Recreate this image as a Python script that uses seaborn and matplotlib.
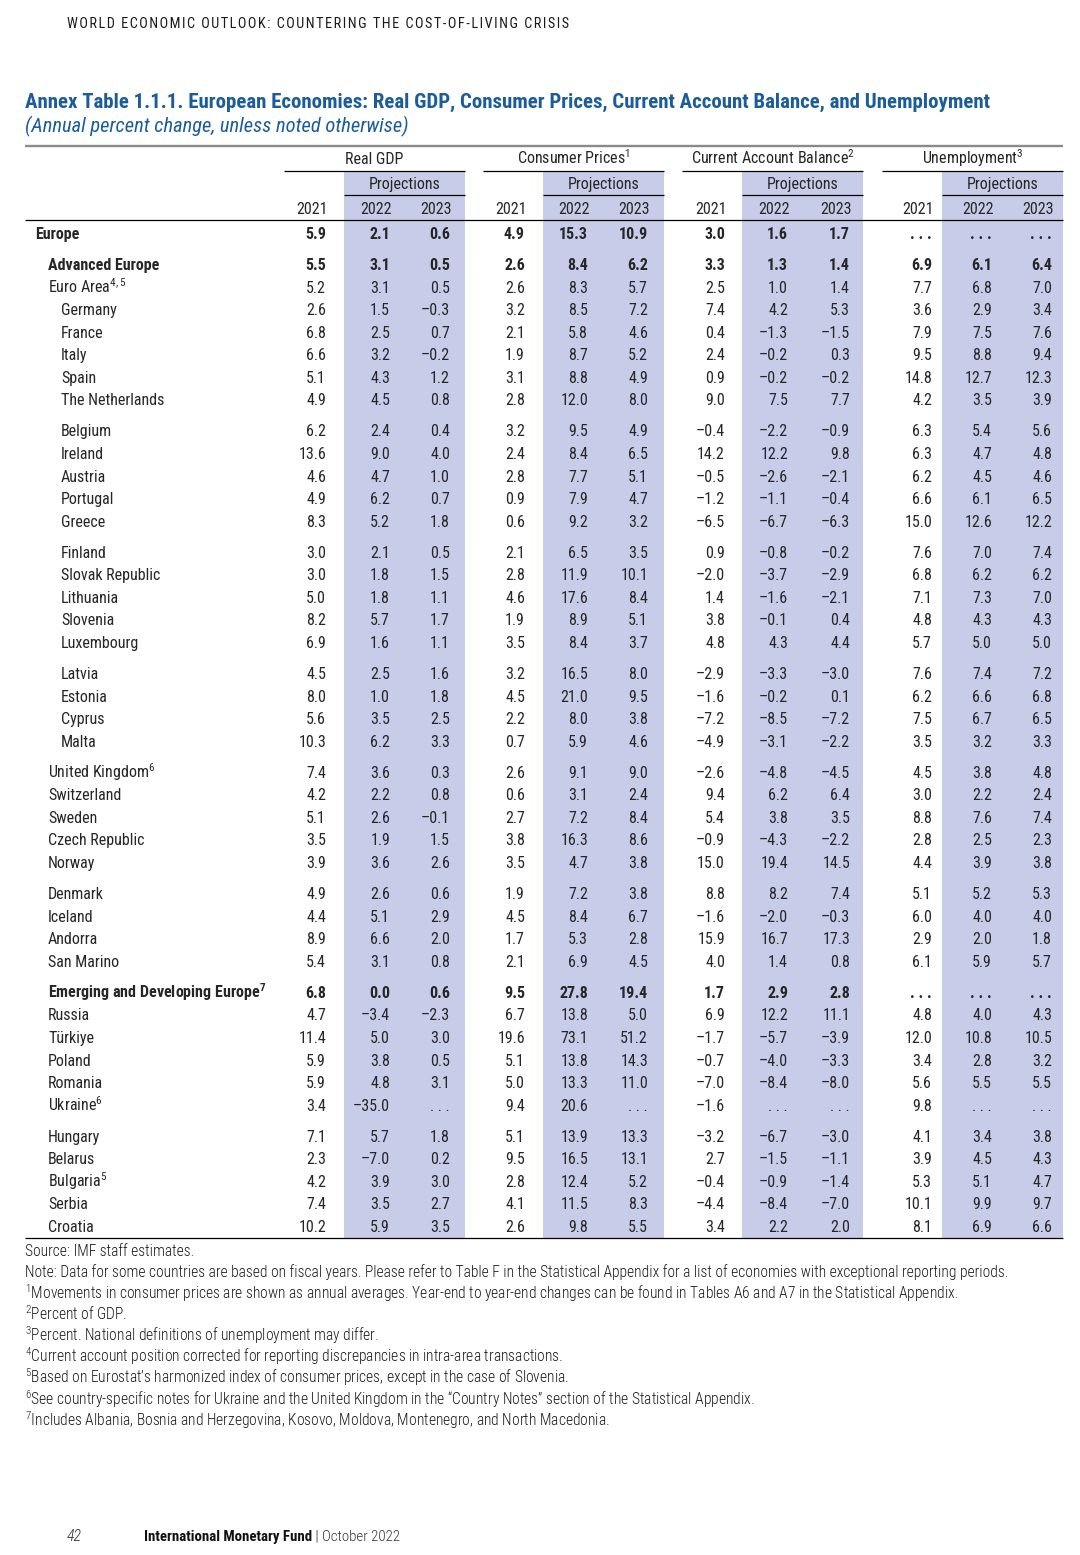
import numpy as np
import matplotlib.pyplot as plt
import seaborn as sns
from matplotlib import font_manager

# Daten
countries = [
    "Europe", "Advanced Europe", "Euro Area$^{4,5}$", "Germany", "France", "Italy",
    "Spain", "The Netherlands", "Belgium", "Ireland", "Austria", "Portugal", "Greece",
    "Finland", "Slovak Republic", "Lithuania", "Slovenia", "Luxembourg", "Latvia",
    "Estonia", "Cyprus", "Malta", "United Kingdom$^{6}$", "Switzerland", "Sweden",
    "Czech Republic", "Norway", "Denmark", "Iceland", "Andorra", "San Marino",
    "Emerging and Developing Europe$^{7}$", "Russia", "Türkiye", "Poland", "Romania",
    "Ukraine$^{6}$", "Hungary", "Belarus", "Bulgaria$^{5}$", "Serbia", "Croatia",
]
nan = np.nan
gdp_2021 = [5.9, 5.5, 5.2, 2.6, 6.8, 6.6, 5.1, 4.9, 6.2, 13.6, 4.6, 4.9, 8.3, 3.0, 3.0, 5.0,
            8.2, 6.9, 4.5, 8.0, 5.6, 10.3, 7.4, 4.2, 5.1, 3.5, 3.9, 4.9, 4.4, 8.9, 5.4,
            6.8, 4.7, 11.4, 5.9, 5.9, 3.4, 7.1, 2.3, 4.2, 7.4, 10.2]
gdp_2022 = [2.1, 3.1, 3.1, 1.5, 2.5, 3.2, 4.3, 4.5, 2.4, 9.0, 4.7, 6.2, 5.2, 2.1, 1.8, 1.8,
            5.7, 1.6, 2.5, 1.0, 3.5, 6.2, 3.6, 2.2, 2.6, 1.9, 3.6, 2.6, 5.1, 6.6, 3.1,
            0.0, -3.4, 5.0, 3.8, 4.8, -35.0, 5.7, -7.0, 3.9, 3.5, 5.9]
gdp_2023 = [0.6, 0.5, 0.5, -0.3, 0.7, -0.2, 1.2, 0.8, 0.4, 4.0, 1.0, 0.7, 1.8, 0.5, 1.5, 1.1,
            1.7, 1.1, 1.6, 1.8, 2.5, 3.3, 0.3, 0.8, -0.1, 1.5, 2.6, 0.6, 2.9, 2.0, 0.8,
            0.6, -2.3, 3.0, 0.5, 3.1, nan, 1.8, 0.2, 3.0, 2.7, 3.5]
cpi_2021 = [4.9, 2.6, 2.6, 3.2, 2.1, 1.9, 3.1, 2.8, 3.2, 2.4, 2.8, 0.9, 0.6, 2.1, 2.8, 4.6,
            1.9, 3.5, 3.2, 4.5, 2.2, 0.7, 2.6, 0.6, 2.7, 3.8, 3.5, 1.9, 4.5, 1.7, 2.1,
            9.5, 6.7, 19.6, 5.1, 5.0, 9.4, 5.1, 9.5, 2.8, 4.1, 2.6]
cpi_2022 = [15.3, 8.4, 8.3, 8.5, 5.8, 8.7, 8.8, 12.0, 9.5, 8.4, 7.7, 7.9, 9.2, 6.5, 11.9, 17.6,
            8.9, 8.4, 16.5, 21.0, 8.0, 5.9, 9.1, 3.1, 7.2, 16.3, 4.7, 7.2, 8.4, 5.3, 6.9,
            27.8, 13.8, 73.1, 13.8, 13.3, 20.6, 13.9, 16.5, 12.4, 11.5, 9.8]
cpi_2023 = [10.9, 6.2, 5.7, 7.2, 4.6, 5.2, 4.9, 8.0, 4.9, 6.5, 5.1, 4.7, 3.2, 3.5, 10.1, 8.4,
            5.1, 3.7, 8.0, 9.5, 3.8, 4.6, 9.0, 2.4, 8.4, 8.6, 3.8, 3.8, 6.7, 2.8, 4.5,
            19.4, 5.0, 51.2, 14.3, 11.0, nan, 13.3, 13.1, 5.2, 8.3, 5.5]
ca_2021 = [3.0, 3.3, 2.5, 7.4, 0.4, 2.4, 0.9, 9.0, -0.4, 14.2, -0.5, -1.2, -6.5, 0.9, -2.0, 1.4,
           3.8, 4.8, -2.9, -1.6, -7.2, -4.9, -2.6, 9.4, 5.4, -0.9, 15.0, 8.8, -1.6, 15.9, 4.0,
           1.7, 6.9, -1.7, -0.7, -7.0, -1.6, -3.2, 2.7, -0.4, -4.4, 3.4]
ca_2022 = [1.6, 1.3, 1.0, 4.2, -1.3, -0.2, -0.2, 7.5, -2.2, 12.2, -2.6, -1.1, -6.7, -0.8, -3.7, -1.6,
           -0.1, 4.3, -3.3, -0.2, -8.5, -3.1, -4.8, 6.2, 3.8, -4.3, 19.4, 8.2, -2.0, 16.7, 1.4,
           2.9, 12.2, -5.7, -4.0, -8.4, nan, -6.7, -1.5, -0.9, -8.4, 2.2]
ca_2023 = [1.7, 1.4, 1.4, 5.3, -1.5, 0.3, -0.2, 7.7, -0.9, 9.8, -2.1, -0.4, -6.3, -0.2, -2.9, -2.1,
           0.4, 4.4, -3.0, 0.1, -7.2, -2.2, -4.5, 6.4, 3.5, -2.2, 14.5, 7.4, -0.3, 17.3, 0.8,
           2.8, 11.1, -3.9, -3.3, -8.0, nan, -3.0, -1.1, -1.4, -7.0, 2.0]
unemp_2021 = [nan, 6.9, 7.7, 3.6, 7.9, 9.5, 14.8, 4.2, 6.3, 6.3, 6.2, 6.6, 15.0, 7.6, 6.8, 7.1,
              4.8, 5.7, 7.6, 6.2, 7.5, 3.5, 4.5, 3.0, 8.8, 2.8, 4.4, 5.1, 6.0, 2.9, 6.1,
              nan, 4.8, 12.0, 3.4, 5.6, 9.8, 4.1, 3.9, 5.3, 10.1, 8.1]
unemp_2022 = [nan, 6.1, 6.8, 2.9, 7.5, 8.8, 12.7, 3.5, 5.4, 4.7, 4.5, 6.1, 12.6, 7.0, 6.2, 7.3,
              4.3, 5.0, 7.4, 6.6, 6.7, 3.2, 3.8, 2.2, 7.6, 2.5, 3.9, 5.2, 4.0, 2.0, 5.9,
              nan, 4.0, 10.8, 2.8, 5.5, nan, 3.4, 4.5, 5.1, 9.9, 6.9]
unemp_2023 = [nan, 6.4, 7.0, 3.4, 7.6, 9.4, 12.3, 3.9, 5.6, 4.8, 4.6, 6.5, 12.2, 7.4, 6.2, 7.0,
              4.3, 5.0, 7.2, 6.8, 6.5, 3.3, 4.8, 2.4, 7.4, 2.3, 3.8, 5.3, 4.0, 1.8, 5.7,
              nan, 4.3, 10.5, 3.2, 5.5, nan, 3.8, 4.3, 4.7, 9.7, 6.6]

groups = ["Real GDP", "Consumer Prices$^{1}$", "Current Account Balance$^{2}$", "Unemployment$^{3}$"]
years = ["2021", "2022", "2023"]
series = [[gdp_2021, gdp_2022, gdp_2023], [cpi_2021, cpi_2022, cpi_2023],
          [ca_2021, ca_2022, ca_2023], [unemp_2021, unemp_2022, unemp_2023]]

footnotes = [
    "Source: IMF staff estimates.",
    "Note: Data for some countries are based on fiscal years. Please refer to Table F in the Statistical Appendix for a list of economies with exceptional reporting periods.",
    "$^{1}$Movements in consumer prices are shown as annual averages. Year-end to year-end changes can be found in Tables A6 and A7 in the Statistical Appendix.",
    "$^{2}$Percent of GDP.",
    "$^{3}$Percent. National definitions of unemployment may differ.",
    "$^{4}$Current account position corrected for reporting discrepancies in intra-area transactions.",
    "$^{5}$Based on Eurostat’s harmonized index of consumer prices, except in the case of Slovenia.",
    "$^{6}$See country-specific notes for Ukraine and the United Kingdom in the “Country Notes” section of the Statistical Appendix.",
    "$^{7}$Includes Albania, Bosnia and Herzegovina, Kosovo, Moldova, Montenegro, and North Macedonia.",
]

# Layout
bold_rows = {0, 1, 31}
indent2 = set(range(3, 22))
gap_after = {0, 7, 12, 17, 21, 26, 30, 36}
y_first, row_step, row_gap = 233, 22.56, 8.5
blue = "#1b5c9a"
band = "#c7cde8"

sns.set_theme(style="white")
names = {f.name for f in font_manager.fontManager.ttflist}
narrow = next((n for n in ["Roboto Condensed", "Archivo Narrow", "PT Sans Narrow"] if n in names),
              "Liberation Sans")
plt.rcParams["font.family"] = [narrow, "DejaVu Sans"]
plt.rcParams["mathtext.fontset"] = "custom"
plt.rcParams["mathtext.rm"] = narrow
plt.rcParams["mathtext.default"] = "regular"

fig = plt.figure(figsize=(10.8, 15.55), dpi=100)
ax = fig.add_axes([0, 0, 1, 1])
ax.set_xlim(0, 1080)
ax.set_ylim(1555, 0)
ax.axis("off")
renderer = fig.canvas.get_renderer()


def fit(t, width):
    # Schriftgröße so anpassen, dass der Text die Zielbreite hat
    w = t.get_window_extent(renderer).width
    t.set_fontsize(t.get_fontsize() * width / w)
    return t


def fmt(v):
    if np.isnan(v):
        return ". . ."
    return f"{v:.1f}".replace("-", "\u2013")


# Zeilenpositionen
row_y = []
y = y_first
for i in range(len(countries)):
    row_y.append(y)
    y += row_step + (row_gap if i in gap_after else 0)

table_bottom = 1238
g_left = [284, 483, 682, 882]
g_width = 181
proj_left = [344, 543, 742, 942]
col_right = [[326, 390, 450], [525, 588, 648], [725, 788, 850], [932, 992, 1052]]

# Schattierte Projektionsspalten
for x0 in proj_left:
    ax.fill_between([x0, x0 + 121], 172, table_bottom, color=band, lw=0, zorder=0)

# Linien
ax.hlines(146, 25, 1063, color="#8a8a8a", lw=1.7)
for x0 in g_left:
    ax.hlines(171, x0, x0 + g_width, color="black", lw=0.9)
for x0 in proj_left:
    ax.hlines(195, x0, x0 + 121, color="black", lw=0.9)
ax.hlines(220, 25, 1063, color="black", lw=0.9)
ax.hlines(table_bottom, 25, 1063, color="black", lw=0.9)

fs = 11.5
# Kopfzeilen
for gi, g in enumerate(groups):
    ax.text(g_left[gi] + g_width / 2, 164, g, ha="center", va="baseline", fontsize=fs)
    ax.text(proj_left[gi] + 60.5, 189, "Projections", ha="center", va="baseline", fontsize=fs)
    for yi, yr in enumerate(years):
        ax.text(col_right[gi][yi] + 2, 214, yr, ha="right", va="baseline", fontsize=fs)

# Tabellenkörper
for i, name in enumerate(countries):
    yb = row_y[i] + 6
    weight = "bold" if i in bold_rows else "normal"
    x = 35 if i == 0 else (61 if i in indent2 else 48)
    ax.text(x, yb, name, ha="left", va="baseline", fontsize=fs, fontweight=weight)
    for gi in range(4):
        for yi in range(3):
            ax.text(col_right[gi][yi], yb, fmt(series[gi][yi][i]), ha="right",
                    va="baseline", fontsize=fs, fontweight=weight)

# Titel (Kopfzeile mit Sperrung)
header = "WORLD ECONOMIC OUTLOOK: COUNTERING THE COST-OF-LIVING CRISIS"
fit(ax.text(67, 28, "\u200a".join(header), ha="left", va="baseline", fontsize=13,
            color="#1a1a1a"), 500)
fit(ax.text(25, 108, "Annex Table 1.1.1. European Economies: Real GDP, Consumer Prices, "
            "Current Account Balance, and Unemployment", ha="left", va="baseline",
            fontsize=15, fontweight="bold", color=blue), 970)
fit(ax.text(25, 132, "(Annual percent change, unless noted otherwise)", ha="left",
            va="baseline", fontsize=14, fontstyle="italic", color=blue), 386)

# Fußnoten
note_fs = None
for j, note in enumerate(footnotes):
    t = ax.text(25, 1256 + j * 21.25, note, ha="left", va="baseline", fontsize=10.5,
                fontweight="light", color="#1a1a1a")
    if j == 1:
        fit(t, 987)
        note_fs = t.get_fontsize()
for t in ax.texts[-len(footnotes):]:
    t.set_fontsize(note_fs)

# Fußzeile
ax.text(67, 1541, "42", ha="left", va="baseline", fontsize=11.5, fontstyle="italic",
        fontweight="light", color="#333333")
imf = fit(ax.text(144, 1541, "International Monetary Fund", ha="left", va="baseline",
                  fontsize=12, fontweight="bold", color="#111111"), 168)
ax.annotate(" | October 2022", xy=(1, 0), xycoords=imf, va="bottom", ha="left",
            fontsize=imf.get_fontsize(), fontweight="light", color="#333333")

fig.savefig("out.png", dpi=100)
